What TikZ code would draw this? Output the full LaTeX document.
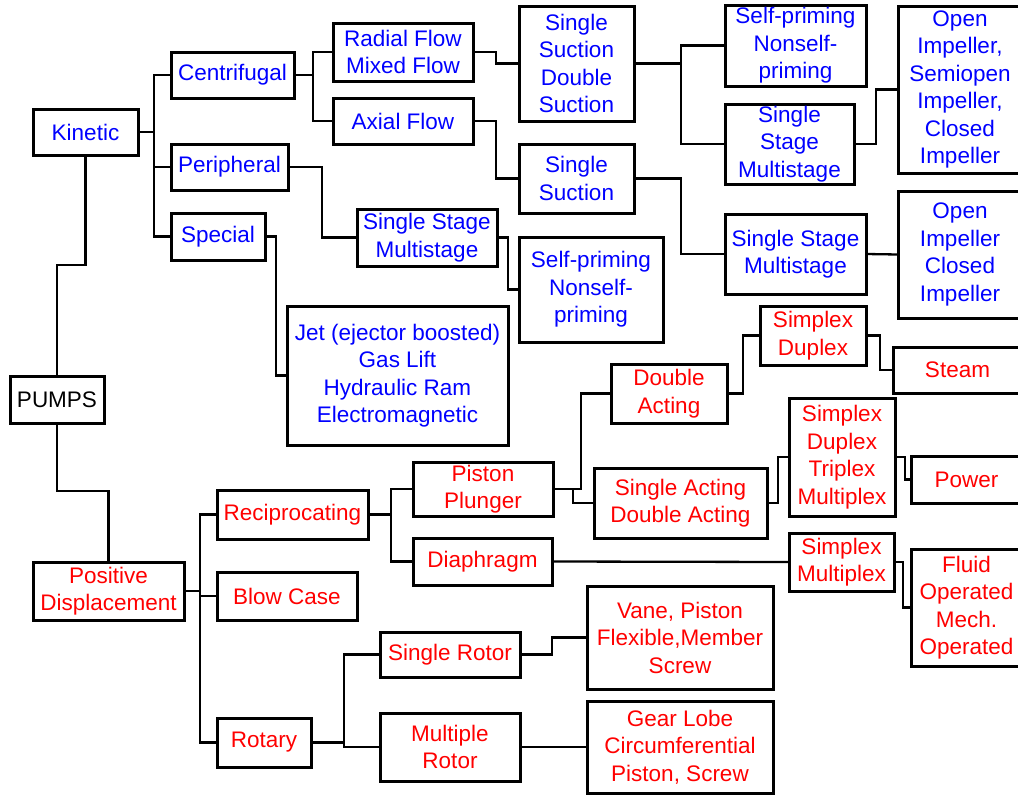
\documentclass[tikz,border=0pt]{standalone}
\usepackage{fontspec}
\setmainfont{Liberation Sans}
\usepackage{tikz}

\begin{document}
\begin{tikzpicture}[x=1pt,y=-1pt,
  box/.style={draw=black,line width=3pt,align=center,font=\fontsize{22.5}{27.5}\selectfont},
  bluebox/.style={box,text=blue},
  redbox/.style={box,text=red},
  wire/.style={line width=2.3pt}]
\tikzstyle{every node}+=[inner sep=0pt,outer sep=0pt]
\clip (0,0) rectangle (1018,795);
\fill [white] (0,0) rectangle (1018,795);
% root
\node [box,minimum width=94,minimum height=47] (pum) at (57,399.5) {PUMPS};
% kinetic side
\node [bluebox,minimum width=105,minimum height=46] (kin) at (85.5,132) {Kinetic};
\node [bluebox,minimum width=123,minimum height=46] (cen) at (232.5,75) {Centrifugal};
\node [bluebox,minimum width=117,minimum height=46] (per) at (229.5,167) {Peripheral};
\node [bluebox,minimum width=94,minimum height=47] (spe) at (218,236.5) {Special};
\node [bluebox,minimum width=140,minimum height=58] (rad) at (403,52) {Radial Flow\\Mixed Flow};
\node [bluebox,minimum width=140,minimum height=46] (axi) at (403,121) {Axial Flow};
\node [bluebox,minimum width=115,minimum height=115] (ssds) at (576.5,63.5) {Single\\Suction\\Double\\Suction};
\node [bluebox,minimum width=115,minimum height=69] (ss) at (576.5,178.5) {Single\\Suction};
\node [bluebox,minimum width=140,minimum height=57] (ssmp) at (427,237.5) {Single Stage\\Multistage};
\node [bluebox,minimum width=144,minimum height=105] (spp) at (591,289.5) {Self-priming\\Nonself-\\priming};
\node [bluebox,minimum width=221,minimum height=139] (jet) at (397.5,375.5) {Jet (ejector boosted)\\Gas Lift\\Hydraulic Ram\\Electromagnetic};
\node [bluebox,minimum width=141,minimum height=81] (spu) at (795.5,45.5) {Self-priming\\Nonself-\\priming};
\node [bluebox,minimum width=129,minimum height=80] (ssmu) at (789.5,144) {Single\\Stage\\Multistage};
\node [bluebox,minimum width=124,minimum height=167] (oisc) at (960,89.5) {Open\\Impeller,\\Semiopen\\Impeller,\\Closed\\Impeller};
\node [bluebox,minimum width=141,minimum height=80] (ssml) at (795.5,254) {Single Stage\\Multistage};
\node [bluebox,minimum width=124,minimum height=127] (oic) at (960,254.5) {Open\\Impeller\\Closed\\Impeller};
% positive displacement side
\node [redbox,minimum width=151,minimum height=58] (pd) at (108.5,591) {Positive\\Displacement};
\node [redbox,minimum width=151,minimum height=49] (rec) at (292.5,514.5) {Reciprocating};
\node [redbox,minimum width=140,minimum height=48] (blo) at (287,596) {Blow Case};
\node [redbox,minimum width=94,minimum height=49] (rot) at (264,742.5) {Rotary};
\node [redbox,minimum width=140,minimum height=54] (pis) at (483,489) {Piston\\Plunger};
\node [redbox,minimum width=139,minimum height=47] (dia) at (482.5,561.5) {Diaphragm};
\node [redbox,minimum width=140,minimum height=45] (sr) at (450,654.5) {Single Rotor};
\node [redbox,minimum width=140,minimum height=68] (mr) at (450,747) {Multiple\\Rotor};
\node [redbox,minimum width=186,minimum height=103] (van) at (680,637.5) {Vane, Piston\\Flexible,Member\\Screw};
\node [redbox,minimum width=186,minimum height=92] (gea) at (680,747) {Gear Lobe\\Circumferential\\Piston, Screw};
\node [redbox,minimum width=116,minimum height=59] (dac) at (669,393.5) {Double\\Acting};
\node [redbox,minimum width=173,minimum height=70] (sac) at (680.5,503) {Single Acting\\Double Acting};
\node [redbox,minimum width=106,minimum height=59] (sdu) at (813,335.5) {Simplex\\Duplex};
\node [redbox,minimum width=129,minimum height=46] (ste) at (957.5,370) {Steam};
\node [redbox,minimum width=106,minimum height=118] (sdtm) at (842,457) {Simplex\\Duplex\\Triplex\\Multiplex};
\node [redbox,minimum width=111,minimum height=47] (pow) at (966.5,479.5) {Power};
\node [redbox,minimum width=105,minimum height=58] (smu) at (841.5,562) {Simplex\\Multiplex};
\node [redbox,minimum width=111,minimum height=117] (flu) at (966.5,607.5) {Fluid\\Operated\\Mech.\\Operated};
% trunk
\draw [wire] (kin.south) -- ++(0,110) -| (pum.north);
\draw [wire] (pum.south) -- ++(0,68) -| (pd.north);
% kinetic links
\draw [wire] (kin.east) -- ++(16,0);
\draw [wire] (cen.west) -- ++(-17,0) |- (spe.west);
\draw [wire] (per.west) -- ++(-17,0);
\draw [wire] (cen.east) -- ++(19,0);
\draw [wire] (rad.west) -- ++(-20,0) |- (axi.west);
\draw [wire] (rad.east) -- ++(23,0) |- (ssds.west);
\draw [wire] (axi.east) -- ++(23,0) |- (ss.west);
\draw [wire] (per.east) -- ++(34,0) |- (ssmp.west);
\draw [wire] (ssmp.east) -- ++(11,0) |- (spp.west);
\draw [wire] (spe.east) -- ++(11,0) |- (jet.west);
\draw [wire] (ssds.east) -- ++(47,0);
\draw [wire] (spu.west) -- ++(-44,0) |- (ssmu.west);
\draw [wire] (ssmu.east) -- ++(22,0) |- (oisc.west);
\draw [wire] (ss.east) -- ++(47,0) |- (ssml.west);
\draw [wire] (ssml.east) -- (oic.west);
% positive displacement links
\draw [wire] (pd.east) -- ++(16,0);
\draw [wire] (rec.west) -- ++(-17,0) |- (rot.west);
\draw [wire] (blo.west) -- ++(-17,0);
\draw [wire] (rec.east) -- ++(23,0);
\draw [wire] (pis.west) -- ++(-22,0) |- (dia.west);
\draw [wire] (rot.east) -- ++(33,0);
\draw [wire] (sr.west) -- ++(-36,0) |- (mr.west);
\draw [wire] (sr.east) -- ++(32,0) |- (van.west);
\draw [wire] (mr.east) -- (gea.west);
\draw [wire] (dia.east) -- (smu.west);
\draw [wire] (smu.east) -- ++(9,0) |- (flu.west);
\draw [wire] (pis.east) -- ++(28,0) |- (dac.west);
\draw [wire] (pis.east) -- ++(20,0) |- (sac.west);
\draw [wire] (dac.east) -- ++(16,0) |- (sdu.west);
\draw [wire] (sdu.east) -- ++(14,0) |- (ste.west);
\draw [wire] (sac.east) -- ++(11,0) |- (sdtm.west);
\draw [wire] (sdtm.east) -- ++(10,0) |- (pow.west);
\end{tikzpicture}
\end{document}
